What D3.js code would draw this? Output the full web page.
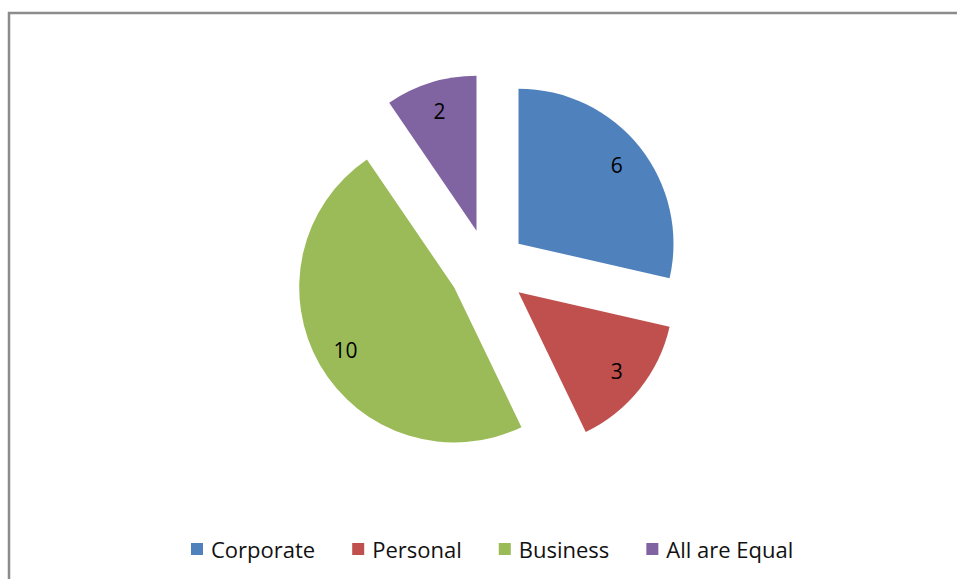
<!DOCTYPE html>
<html><head><meta charset="utf-8">
<script src="https://cdn.jsdelivr.net/npm/d3@7/dist/d3.min.js"></script>
<style>body{margin:0;background:#fff}svg{display:block}</style>
</head><body><svg id="c" width="957" height="579"></svg>
<script>
const categories = ["Corporate", "Personal", "Business", "All are Equal"];
const values = [6, 3, 10, 2];
const colors = ["#4F81BD", "#C0504D", "#9BBB59", "#8064A2"];

const svg = d3.select("#c");
svg.append("rect").attr("x", 9).attr("y", 13).attr("width", 960).attr("height", 600)
  .attr("fill", "#fff").attr("stroke", "#8c8c8c").attr("stroke-width", 2.5);

const cx = 488, cy = 268, r = 155, explode = 39;
const pie = d3.pie().sort(null).value(d => d)(values);
const arc = d3.arc().innerRadius(0).outerRadius(r);
const g = svg.append("g").attr("transform", `translate(${cx},${cy})`);
const slices = g.selectAll("g.s").data(pie).join("g").attr("class", "s")
  .attr("transform", d => {
    const a = (d.startAngle + d.endAngle) / 2;
    return `translate(${Math.sin(a) * explode},${-Math.cos(a) * explode})`;
  });
slices.append("path").attr("d", arc).attr("fill", (d, i) => colors[i]);
slices.append("text")
  .attr("x", d => Math.sin((d.startAngle + d.endAngle) / 2) * r * 0.81)
  .attr("y", d => -Math.cos((d.startAngle + d.endAngle) / 2) * r * 0.81)
  .attr("text-anchor", "middle").attr("dominant-baseline", "central")
  .attr("font-family", "Open Sans, sans-serif").attr("font-size", 21).attr("fill", "#000")
  .text(d => d.data);

// legend
const lg = svg.append("g").attr("transform", "translate(191,549)");
let x = 0;
categories.forEach((c, i) => {
  const it = lg.append("g").attr("transform", `translate(${x},0)`);
  it.append("rect").attr("x", 0).attr("y", -6).attr("width", 12).attr("height", 12).attr("fill", colors[i]);
  const t = it.append("text").attr("x", 20).attr("y", 0).attr("dominant-baseline", "central")
    .attr("font-family", "Open Sans, sans-serif").attr("font-size", 22).attr("fill", "#111").text(c);
  x += 20 + t.node().getComputedTextLength() + 37;
});
</script></body></html>
